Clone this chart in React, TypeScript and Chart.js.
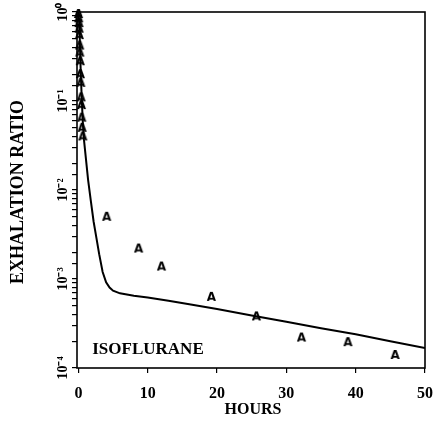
import React, { useEffect, useRef } from 'react';
import { Chart, registerables } from 'chart.js';

Chart.register(...registerables);

// Model curve (hours, exhalation ratio)
const curveHours = [0, 0.1, 0.2, 0.35, 0.5, 0.65, 0.8, 1.1, 1.4, 1.8, 2.2, 2.6, 3.0, 3.5, 4.0, 4.5, 5.0, 6.0, 8.0, 10, 13, 16, 20, 25, 30, 35, 40, 45, 50];
const curveRatio = [1.0, 0.8, 0.5, 0.2, 0.1, 0.055, 0.037, 0.022, 0.013, 0.0075, 0.0044, 0.0029, 0.0019, 0.0012, 0.00092, 0.0008, 0.00074, 0.00069, 0.00065, 0.00062, 0.00057, 0.00052, 0.00046, 0.00039, 0.00033, 0.00028, 0.00024, 0.0002, 0.000168];

// Observed data ("A" markers)
const obsHours = [0.03, 0.06, 0.1, 0.12, 0.15, 0.2, 0.22, 0.28, 0.3, 0.35, 0.4, 0.45, 0.5, 0.55, 0.65, 4.1, 8.7, 12.0, 19.2, 25.7, 32.2, 38.9, 45.7];
const obsRatio = [0.95, 0.85, 0.75, 0.65, 0.55, 0.42, 0.35, 0.28, 0.2, 0.16, 0.11, 0.09, 0.065, 0.05, 0.04, 0.005, 0.0022, 0.00138, 0.00063, 0.00038, 0.00022, 0.000195, 0.00014];

const xTickValues = [0, 10, 20, 30, 40, 50];
const yAxisTitle = 'EXHALATION RATIO';
const xAxisTitle = 'HOURS';
const panelLabel = 'ISOFLURANE';

const SERIF = "'Liberation Serif', 'Times New Roman', serif";
const SUP: Record<string, string> = { '0': '⁰', '1': '¹', '2': '²', '3': '³', '4': '⁴', '5': '⁵', '6': '⁶', '7': '⁷', '8': '⁸', '9': '⁹', '-': '⁻' };
const toSup = (n: number) => String(n).split('').map((c) => SUP[c] || c).join('');

function makeMarker(): HTMLCanvasElement {
  const c = document.createElement('canvas');
  c.width = 11;
  c.height = 12;
  const g = c.getContext('2d')!;
  g.fillStyle = '#000';
  g.font = "bold 12px 'DejaVu Sans', sans-serif";
  g.textAlign = 'center';
  g.textBaseline = 'middle';
  g.fillText('A', 5.5, 6.5);
  return c;
}

export default function App() {
  const ref = useRef<HTMLCanvasElement | null>(null);

  useEffect(() => {
    if (!ref.current) return;
    const marker = makeMarker();

    const decor = {
      id: 'decor',
      afterDraw(chart: any) {
        const { ctx, chartArea: a, scales } = chart;
        ctx.save();
        ctx.strokeStyle = '#000';
        ctx.lineWidth = 1.6;
        ctx.strokeRect(a.left, a.top, a.right - a.left, a.bottom - a.top);
        ctx.fillStyle = '#000';
        ctx.font = `bold 17px ${SERIF}`;
        ctx.textAlign = 'left';
        ctx.textBaseline = 'middle';
        ctx.fillText(panelLabel, scales.x.getPixelForValue(2.0), scales.y.getPixelForValue(1.62e-4));
        ctx.font = `bold 16px ${SERIF}`;
        ctx.textAlign = 'center';
        ctx.fillText(xAxisTitle, (a.left + a.right) / 2 + 2, 410);
        ctx.font = `bold 18px ${SERIF}`;
        ctx.translate(18, 192);
        ctx.rotate(-Math.PI / 2);
        ctx.fillText(yAxisTitle, 0, 0);
        ctx.restore();
      },
    };

    const chart = new Chart(ref.current, {
      type: 'line',
      data: {
        datasets: [
          {
            label: 'model',
            data: curveHours.map((h, i) => ({ x: h, y: curveRatio[i] })),
            borderColor: '#000',
            borderWidth: 2,
            pointRadius: 0,
            tension: 0,
            fill: false,
          },
          {
            label: 'observed',
            data: obsHours.map((h, i) => ({ x: h, y: obsRatio[i] })),
            showLine: false,
            pointStyle: marker,
            pointRadius: 6,
            clip: false,
          } as any,
        ],
      },
      options: {
        responsive: false,
        animation: false,
        layout: { padding: { top: 12, right: 14, left: 0, bottom: 0 } },
        plugins: { legend: { display: false }, tooltip: { enabled: false } },
        scales: {
          x: {
            type: 'linear',
            min: -0.2,
            max: 50,
            afterBuildTicks: (s: any) => {
              s.ticks = xTickValues.map((v) => ({ value: v }));
            },
            afterFit: (s: any) => {
              s.height = 64;
              s.paddingLeft = 0;
              s.paddingRight = 0;
            },
            border: { display: false },
            grid: { drawOnChartArea: false, drawTicks: true, tickLength: 5, color: '#000', lineWidth: 1.2 },
            ticks: {
              color: '#000',
              padding: 11,
              font: { family: SERIF, size: 16, weight: 'bold' },
              maxRotation: 0,
              minRotation: 0,
            },
          },
          y: {
            type: 'logarithmic',
            min: 1e-4,
            max: 1,
            afterFit: (s: any) => {
              s.width = 77;
              s.paddingTop = 0;
              s.paddingBottom = 0;
            },
            border: { display: false },
            grid: { drawOnChartArea: false, drawTicks: true, tickLength: 5, color: '#000', lineWidth: 1.2 },
            ticks: {
              color: '#000',
              autoSkip: false,
              padding: -3,
              crossAlign: 'center',
              minRotation: 90,
              maxRotation: 90,
              font: { family: SERIF, size: 14, weight: 'bold' },
              callback: (v: any) => {
                const l = Math.log10(Number(v));
                const r = Math.round(l);
                if (Math.abs(l - r) < 1e-6) return '10' + toSup(r);
                return '';
              },
            },
          },
        },
      },
      plugins: [decor],
    } as any);

    return () => chart.destroy();
  }, []);

  return (
    <div style={{ position: 'absolute', left: 0, top: 0, width: 439, height: 432, background: '#fff' }}>
      <canvas ref={ref} width={439} height={432} />
    </div>
  );
}
